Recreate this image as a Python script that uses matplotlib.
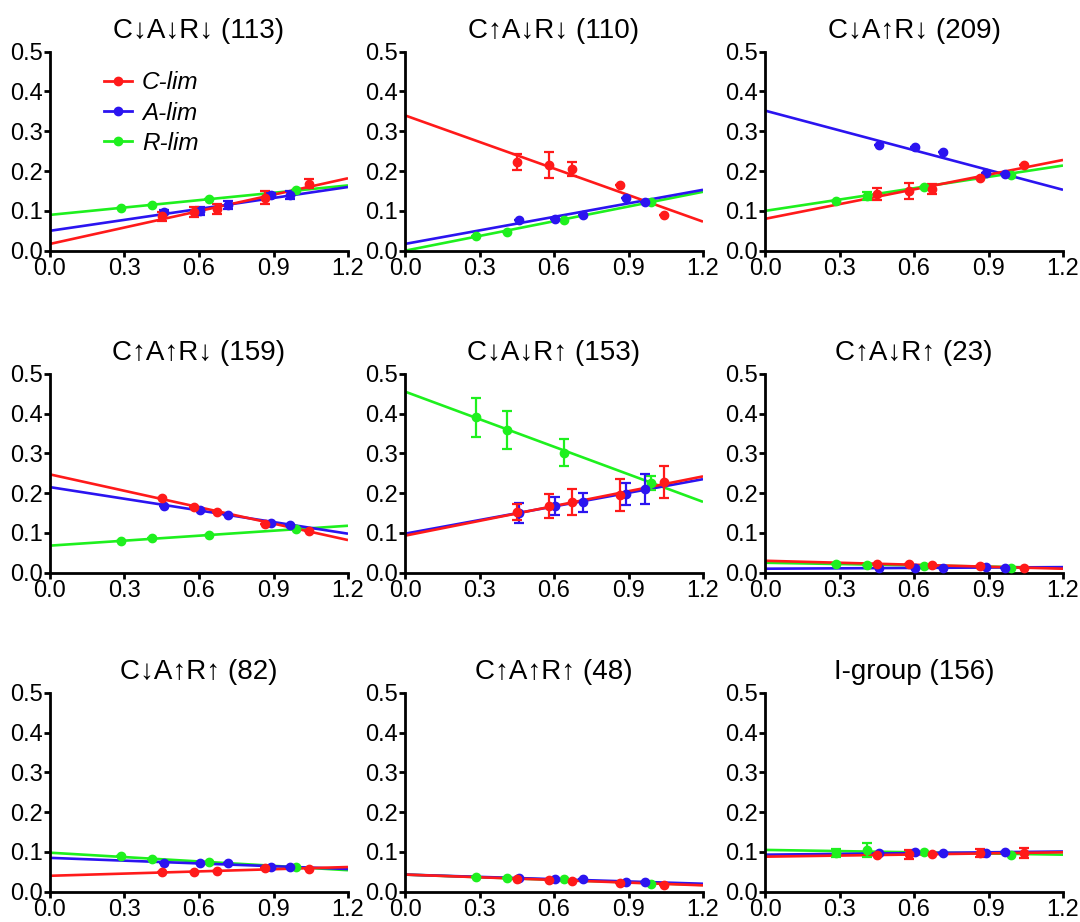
import matplotlib

matplotlib.use("Agg")
import matplotlib.pyplot as plt
from matplotlib.lines import Line2D

plt.rcParams["font.family"] = ["Liberation Sans", "DejaVu Sans"]

TITLES = [
    "C↓A↓R↓ (113)", "C↑A↓R↓ (110)", "C↓A↑R↓ (209)",
    "C↑A↑R↓ (159)", "C↓A↓R↑ (153)", "C↑A↓R↑ (23)",
    "C↓A↑R↑ (82)", "C↑A↑R↑ (48)", "I-group (156)",
]

# x positions of each series (same in every panel)
C_X = [0.452, 0.580, 0.673, 0.867, 1.043]
A_X = [0.458, 0.603, 0.718, 0.889, 0.968]
R_X = [0.286, 0.409, 0.641, 0.989]

# fitted lines: value at x=0 and at x=1.2
FIT_X = [0.0, 1.2]

C_Y = [
    [0.086, 0.098, 0.105, 0.133, 0.168],
    [0.222, 0.215, 0.205, 0.165, 0.090],
    [0.142, 0.150, 0.155, 0.182, 0.216],
    [0.187, 0.166, 0.153, 0.122, 0.105],
    [0.152, 0.167, 0.178, 0.195, 0.228],
    [0.022, 0.021, 0.019, 0.016, 0.013],
    [0.049, 0.050, 0.052, 0.060, 0.058],
    [0.032, 0.029, 0.028, 0.023, 0.017],
    [0.092, 0.094, 0.095, 0.097, 0.097],
]
C_ERR = [
    [0.012, 0.013, 0.012, 0.016, 0.011],
    [0.020, 0.032, 0.018, 0.0, 0.0],
    [0.015, 0.020, 0.013, 0.0, 0.0],
    [0.0, 0.0, 0.0, 0.0, 0.0],
    [0.020, 0.030, 0.033, 0.040, 0.040],
    [0.0, 0.0, 0.0, 0.0, 0.0],
    [0.0, 0.0, 0.0, 0.0, 0.0],
    [0.0, 0.0, 0.0, 0.0, 0.0],
    [0.0, 0.012, 0.0, 0.010, 0.012],
]
C_FIT = [
    [0.017, 0.182], [0.340, 0.073], [0.080, 0.228],
    [0.247, 0.082], [0.093, 0.242], [0.030, 0.010],
    [0.040, 0.062], [0.043, 0.016], [0.088, 0.099],
]

A_Y = [
    [0.098, 0.100, 0.115, 0.140, 0.140],
    [0.076, 0.080, 0.090, 0.133, 0.122],
    [0.265, 0.261, 0.247, 0.196, 0.193],
    [0.168, 0.157, 0.145, 0.125, 0.121],
    [0.150, 0.167, 0.177, 0.198, 0.210],
    [0.011, 0.012, 0.012, 0.014, 0.013],
    [0.071, 0.072, 0.071, 0.063, 0.062],
    [0.034, 0.032, 0.031, 0.025, 0.025],
    [0.098, 0.099, 0.098, 0.098, 0.101],
]
A_ERR = [
    [0.005, 0.010, 0.010, 0.006, 0.010],
    [0.0, 0.0, 0.0, 0.0, 0.0],
    [0.0, 0.0, 0.0, 0.0, 0.0],
    [0.0, 0.0, 0.0, 0.0, 0.0],
    [0.024, 0.023, 0.024, 0.028, 0.038],
    [0.0, 0.0, 0.0, 0.0, 0.0],
    [0.0, 0.0, 0.0, 0.0, 0.0],
    [0.0, 0.0, 0.0, 0.0, 0.0],
    [0.0, 0.0, 0.0, 0.0, 0.0],
]
A_FIT = [
    [0.050, 0.160], [0.017, 0.153], [0.352, 0.153],
    [0.215, 0.098], [0.098, 0.235], [0.010, 0.014],
    [0.085, 0.057], [0.043, 0.020], [0.093, 0.101],
]

R_Y = [
    [0.107, 0.115, 0.130, 0.152],
    [0.037, 0.048, 0.078, 0.123],
    [0.125, 0.138, 0.160, 0.190],
    [0.079, 0.087, 0.095, 0.109],
    [0.390, 0.358, 0.302, 0.225],
    [0.021, 0.020, 0.018, 0.011],
    [0.089, 0.081, 0.074, 0.062],
    [0.037, 0.035, 0.031, 0.020],
    [0.097, 0.105, 0.100, 0.091],
]
R_ERR = [
    [0.0, 0.0, 0.0, 0.0],
    [0.0, 0.0, 0.0, 0.0],
    [0.0, 0.010, 0.0, 0.0],
    [0.0, 0.0, 0.0, 0.0],
    [0.048, 0.048, 0.033, 0.018],
    [0.0, 0.0, 0.0, 0.0],
    [0.0, 0.0, 0.0, 0.0],
    [0.0, 0.0, 0.0, 0.0],
    [0.010, 0.018, 0.0, 0.0],
]
R_FIT = [
    [0.090, 0.164], [0.000, 0.148], [0.100, 0.214],
    [0.068, 0.118], [0.455, 0.178], [0.025, 0.012],
    [0.098, 0.054], [0.043, 0.017], [0.105, 0.093],
]

RED = "#ff1a1a"
BLUE = "#2b14f0"
GREEN = "#1ef01e"

W, H = 1080, 922
COL_LEFT = [50, 405, 765]
AX_W = 298
ROW_BOTTOM = [250.7, 572.7, 891.7]
AX_H = 199


def draw_series(ax, xs, ys, errs, fit, color):
    ax.plot(FIT_X, fit, color=color, linewidth=1.9, zorder=2, solid_capstyle="butt")
    ax.errorbar(
        xs, ys, yerr=errs, fmt="o", color=color, markersize=6,
        elinewidth=1.6, capsize=3.5, capthick=1.6, zorder=3, clip_on=False,
    )


def main() -> None:
    fig = plt.figure(figsize=(W / 100, H / 100), dpi=100)

    for i, title in enumerate(TITLES):
        row, col = divmod(i, 3)
        left = COL_LEFT[col] / W
        bottom = 1 - ROW_BOTTOM[row] / H
        ax = fig.add_axes([left, bottom, AX_W / W, AX_H / H])

        draw_series(ax, R_X, R_Y[i], R_ERR[i], R_FIT[i], GREEN)
        draw_series(ax, A_X, A_Y[i], A_ERR[i], A_FIT[i], BLUE)
        draw_series(ax, C_X, C_Y[i], C_ERR[i], C_FIT[i], RED)

        ax.set_xlim(0, 1.2)
        ax.set_ylim(0, 0.5)
        ax.set_xticks([0.0, 0.3, 0.6, 0.9, 1.2])
        ax.set_yticks([0.0, 0.1, 0.2, 0.3, 0.4, 0.5])
        ax.xaxis.set_major_formatter(plt.FormatStrFormatter("%.1f"))
        ax.yaxis.set_major_formatter(plt.FormatStrFormatter("%.1f"))
        for side in ("top", "right"):
            ax.spines[side].set_visible(False)
        for side in ("left", "bottom"):
            ax.spines[side].set_linewidth(2.0)
        ax.tick_params(direction="out", length=4, width=2.0, labelsize=17, pad=1)
        ax.set_title(title, fontsize=20, pad=10)

        if i == 0:
            handles = [
                Line2D([], [], color=RED, marker="o", markersize=6, linewidth=2),
                Line2D([], [], color=BLUE, marker="o", markersize=6, linewidth=2),
                Line2D([], [], color=GREEN, marker="o", markersize=6, linewidth=2),
            ]
            ax.legend(
                handles, ["C-lim", "A-lim", "R-lim"], loc="upper left",
                bbox_to_anchor=(0.15, 0.95), frameon=False,
                prop={"style": "italic", "size": 17.5}, handlelength=1.15,
                handletextpad=0.4, labelspacing=0.3, borderaxespad=0,
            )

    fig.savefig("out.png", dpi=100)
    plt.close(fig)


if __name__ == "__main__":
    main()
